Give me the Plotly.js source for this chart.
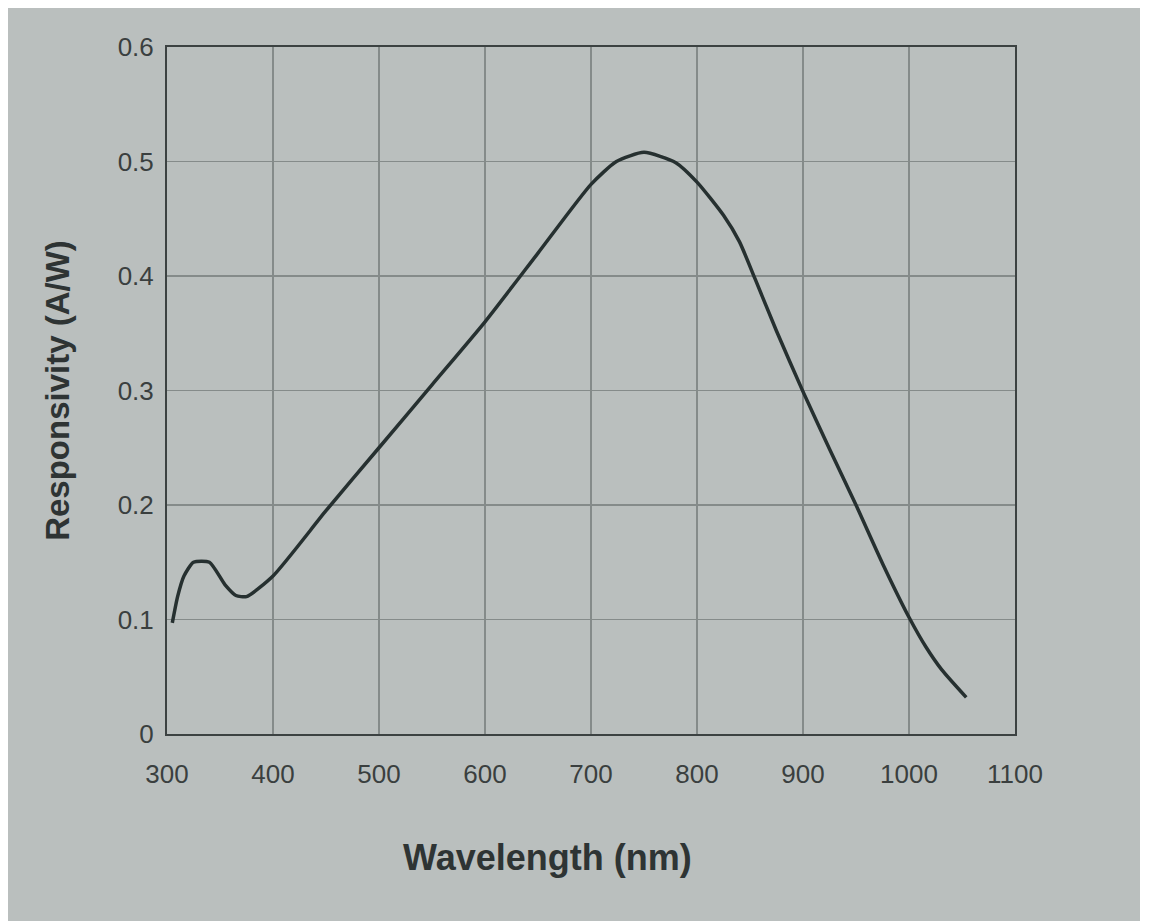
<!DOCTYPE html>
<html>
<head>
<meta charset="utf-8">
<script src="https://cdn.plot.ly/plotly-3.0.1.min.js"></script>
<style>
  html, body { margin: 0; padding: 0; background: #ffffff; }
  #chart { position: absolute; left: 8px; top: 8px; width: 1132px; height: 913px; }
</style>
</head>
<body>
<div id="chart"></div>
<script>
const wavelength = [305, 310, 316, 325, 340, 355, 365, 375, 400, 450, 500, 550, 600, 650, 700, 724, 750, 780, 800, 825, 840, 855, 875, 900, 925, 950, 975, 1000, 1016, 1031, 1054];
const responsivity = [0.097, 0.12, 0.138, 0.15, 0.15, 0.13, 0.121, 0.12, 0.138, 0.195, 0.25, 0.305, 0.36, 0.42, 0.48, 0.50, 0.508, 0.499, 0.482, 0.453, 0.43, 0.397, 0.352, 0.299, 0.249, 0.2, 0.149, 0.102, 0.076, 0.056, 0.032];
const xTicks = [300, 400, 500, 600, 700, 800, 900, 1000, 1100];
const yTicks = [0, 0.1, 0.2, 0.3, 0.4, 0.5, 0.6];
const yTickText = ['0', '0.1', '0.2', '0.3', '0.4', '0.5', '0.6'];
const xTitle = 'Wavelength (nm)';
const yTitle = 'Responsivity (A/W)';

const trace = {
  x: wavelength,
  y: responsivity,
  type: 'scatter',
  mode: 'lines',
  line: { color: '#263030', width: 3.5, shape: 'spline', smoothing: 0.6 },
  hoverinfo: 'x+y'
};

const layout = {
  width: 1132,
  height: 913,
  paper_bgcolor: '#babfbe',
  plot_bgcolor: '#babfbe',
  margin: { l: 159, r: 125, t: 39, b: 187 },
  showlegend: false,
  font: { family: 'Liberation Sans, Arial, sans-serif', color: '#3a3f3f' },
  xaxis: {
    range: [300, 1100],
    tickvals: xTicks,
    ticktext: xTicks.map(String),
    showgrid: true,
    gridcolor: '#858b8a',
    gridwidth: 1.2,
    zeroline: false,
    showline: true,
    linecolor: '#3c4242',
    linewidth: 2,
    mirror: true,
    ticks: '',
    ticklabelstandoff: 16,
    tickfont: { size: 26, color: '#3a3f3f' },
    title: { text: '' }
  },
  yaxis: {
    range: [0, 0.6],
    tickvals: yTicks,
    ticktext: yTickText,
    showgrid: true,
    gridcolor: '#858b8a',
    gridwidth: 1.2,
    zeroline: false,
    showline: true,
    linecolor: '#3c4242',
    linewidth: 2,
    mirror: true,
    ticks: '',
    ticklabelstandoff: 6,
    tickfont: { size: 26, color: '#3a3f3f' },
    title: { text: '<b>' + yTitle + '</b>', font: { size: 33, color: '#2e3434' }, standoff: 38 }
  },
  annotations: [{
    text: '<b>' + xTitle + '</b>',
    xref: 'paper', yref: 'paper',
    x: 0.449, y: -0.18,
    xanchor: 'center', yanchor: 'middle',
    showarrow: false,
    font: { size: 36, color: '#2e3434' }
  }]
};

Plotly.newPlot('chart', [trace], layout, { displayModeBar: false, staticPlot: true });
</script>
</body>
</html>
